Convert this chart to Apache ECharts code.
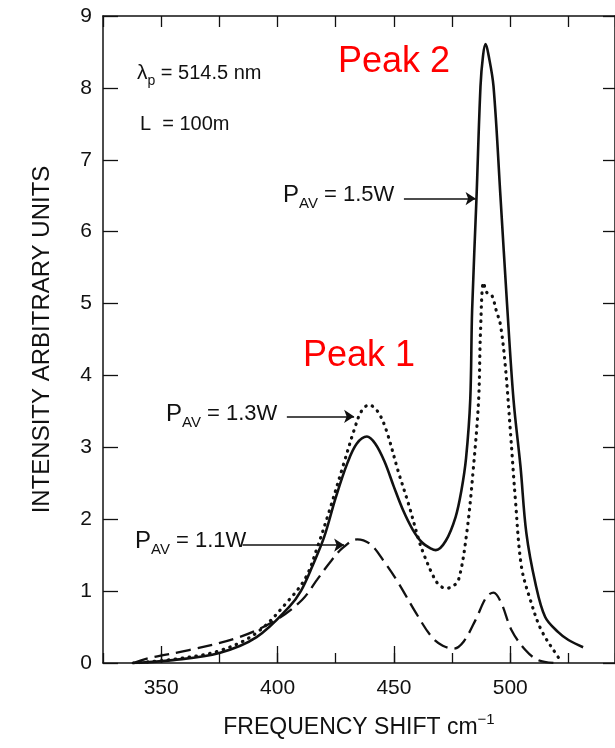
<!DOCTYPE html>
<html>
<head>
<meta charset="utf-8">
<script src="https://cdn.jsdelivr.net/npm/echarts@6/dist/echarts.min.js"></script>
<style>
  html, body { margin: 0; padding: 0; background: #fff; }
  #chart { width: 615px; height: 748px; }
</style>
</head>
<body>
<div id="chart"></div>
<script>
// frequency shift (cm-1) and intensity for each pump power
const shift15 = [338, 355, 375, 391, 405, 410, 415, 420, 425, 430, 434, 438.4, 442, 446, 450, 454, 458, 462, 466, 468, 472.3, 476.5, 479, 481, 482.8, 483.6, 485.5, 487.2, 488.3, 489.4, 490.7, 492.8, 495.8, 498.6, 501.4, 504.4, 506.9, 510.8, 515, 520.6, 525, 531.3]
const int15 = [0, 0.04, 0.14, 0.36, 0.78, 1.0, 1.35, 1.75, 2.3, 2.78, 3.05, 3.15, 3.05, 2.8, 2.45, 2.12, 1.86, 1.68, 1.59, 1.57, 1.7, 2.03, 2.4, 2.85, 3.66, 4.9, 6.48, 8.02, 8.45, 8.61, 8.45, 8.02, 6.48, 5.0, 3.66, 2.73, 1.81, 1.11, 0.64, 0.43, 0.32, 0.22]

const shift13 = [338, 355, 375, 391, 405, 412.3, 417, 422, 428.6, 433, 436, 439.3, 443, 446.6, 452, 456.4, 460.7, 463, 466.3, 469, 472.3, 475, 477.8, 481.3, 484.2, 486.4, 487.2, 488.5, 490, 492, 494, 495.8, 497.9, 500.1, 502.2, 504.8, 508.6, 513.3, 520.6, 522]
const int13 = [0, 0.05, 0.17, 0.42, 0.88, 1.2, 1.6, 2.09, 2.79, 3.25, 3.5, 3.59, 3.5, 3.25, 2.65, 2.2, 1.71, 1.5, 1.25, 1.1, 1.04, 1.06, 1.16, 1.81, 2.73, 3.66, 4.6, 5.29, 5.15, 5.12, 4.9, 4.7, 4.12, 3.2, 2.27, 1.34, 0.88, 0.46, 0.08, 0.02]

const shift11 = [338, 345, 362, 383.6, 399.5, 410.6, 417, 423, 428, 434.2, 440, 446, 452, 459.4, 466.3, 471, 475.7, 480, 485.1, 489.8, 492.8, 496.2, 500.5, 506.5, 512, 519]
const int11 = [0, 0.07, 0.18, 0.36, 0.6, 0.88, 1.16, 1.42, 1.6, 1.72, 1.65, 1.4, 1.11, 0.7, 0.36, 0.24, 0.2, 0.3, 0.6, 0.92, 0.98, 0.83, 0.46, 0.18, 0.04, 0]

const majorTicks = [350, 400, 450, 500]

const pair = (xs, ys) => xs.map((x, i) => [x, ys[i]])

const chart = echarts.init(document.getElementById('chart'))
const font = 'Liberation Sans, Arial, sans-serif'
const ink = '#111'

const pavRich = {
  p: { fontSize: 24, lineHeight: 32, verticalAlign: 'middle', fontFamily: font, fill: ink },
  s: { fontSize: 15, lineHeight: 15, verticalAlign: 'bottom', fontFamily: font, fill: ink },
  t: { fontSize: 22, lineHeight: 32, verticalAlign: 'middle', fontFamily: font, fill: ink }
}

function arrow(x1, x2, y) {
  return [{ coord: [x1, y] }, { coord: [x2, y] }]
}

chart.setOption({
  backgroundColor: '#fff',
  animation: false,
  grid: { left: 103, top: 16, width: 514, height: 647 },
  xAxis: [
    {
      type: 'value', min: 325, max: 545, interval: 25, position: 'bottom',
      axisLine: { lineStyle: { color: ink, width: 1.5 } },
      axisTick: { inside: true, length: 10, lineStyle: { color: ink, width: 1.3 } },
      axisLabel: { show: false },
      splitLine: { show: false },
      name: '{t|FREQUENCY SHIFT cm}{u|−1}',
      nameLocation: 'middle', nameGap: 49,
      nameTextStyle: {
        rich: {
          t: { fontSize: 23, lineHeight: 32, verticalAlign: 'middle', fontFamily: font, color: ink },
          u: { fontSize: 15, lineHeight: 15, verticalAlign: 'top', fontFamily: font, color: ink }
        }
      }
    },
    {
      type: 'value', min: 325, max: 545, position: 'bottom',
      axisLine: { show: false },
      axisTick: { inside: true, length: 17, customValues: majorTicks, lineStyle: { color: ink, width: 1.3 } },
      axisLabel: { customValues: majorTicks, fontSize: 21, color: ink, fontFamily: font, margin: 15 },
      splitLine: { show: false }
    },
    {
      type: 'value', min: 325, max: 545, interval: 25, position: 'top',
      axisLine: { lineStyle: { color: ink, width: 1.5 } },
      axisTick: { inside: true, length: 11, lineStyle: { color: ink, width: 1.3 } },
      axisLabel: { show: false },
      splitLine: { show: false }
    }
  ],
  yAxis: [
    {
      type: 'value', min: 0, max: 9, interval: 1, position: 'left',
      axisLine: { show: true, lineStyle: { color: ink, width: 1.5 } },
      axisTick: { show: true, inside: true, length: 15, lineStyle: { color: ink, width: 1.3 } },
      axisLabel: { fontSize: 21, color: ink, fontFamily: font, margin: 11 },
      splitLine: { show: false },
      name: 'INTENSITY ARBITRARY UNITS',
      nameLocation: 'middle', nameGap: 49,
      nameTextStyle: { fontSize: 24, color: ink, fontFamily: font }
    },
    {
      type: 'value', min: 0, max: 9, interval: 1, position: 'right',
      axisLine: { show: true, lineStyle: { color: ink, width: 1.5 } },
      axisTick: { show: true, inside: true, length: 12, lineStyle: { color: ink, width: 1.3 } },
      axisLabel: { show: false },
      splitLine: { show: false }
    }
  ],
  series: [
    {
      name: 'PAV = 1.5W', type: 'line', smooth: 0.35, showSymbol: false,
      data: pair(shift15, int15),
      lineStyle: { color: ink, width: 2.6 },
      markLine: {
        silent: true, symbol: ['none', 'arrow'], symbolSize: 10,
        label: { show: false },
        lineStyle: { type: 'solid', color: ink, width: 1.6 },
        data: [arrow(454.3, 485.1, 6.46), arrow(404, 432.9, 3.43), arrow(385, 428.6, 1.64)]
      }
    },
    {
      name: 'PAV = 1.3W', type: 'line', smooth: 0.35, showSymbol: false,
      data: pair(shift13, int13),
      lineStyle: { color: ink, width: 3.2, type: [0.5, 6.5], cap: 'round' }
    },
    {
      name: 'PAV = 1.1W', type: 'line', smooth: 0.35, showSymbol: false,
      data: pair(shift11, int11),
      lineStyle: { color: ink, width: 2.3, type: [15, 7] }
    }
  ],
  graphic: [
    {
      type: 'text', left: 137, top: 63,
      style: {
        text: '{p|λ}{s|p}{t| = 514.5 nm}',
        rich: {
          p: { fontSize: 21, lineHeight: 30, verticalAlign: 'middle', fontFamily: font, fill: ink },
          s: { fontSize: 14, lineHeight: 14, verticalAlign: 'bottom', fontFamily: font, fill: ink },
          t: { fontSize: 20, lineHeight: 30, verticalAlign: 'middle', fontFamily: font, fill: ink }
        }
      }
    },
    {
      type: 'text', left: 140, top: 114,
      style: { text: 'L  = 100m', fontSize: 20, fontFamily: font, fill: ink }
    },
    {
      type: 'text', left: 338, top: 44,
      style: { text: 'Peak 2', fontSize: 36, fontFamily: font, fill: '#ff0000' }
    },
    {
      type: 'text', left: 303, top: 338,
      style: { text: 'Peak 1', fontSize: 36, fontFamily: font, fill: '#ff0000' }
    },
    {
      type: 'text', left: 283, top: 183,
      style: { text: '{p|P}{s|AV}{t| = 1.5W}', rich: pavRich }
    },
    {
      type: 'text', left: 166, top: 402,
      style: { text: '{p|P}{s|AV}{t| = 1.3W}', rich: pavRich }
    },
    {
      type: 'text', left: 135, top: 529,
      style: { text: '{p|P}{s|AV}{t| = 1.1W}', rich: pavRich }
    }
  ]
})
</script>
</body>
</html>
